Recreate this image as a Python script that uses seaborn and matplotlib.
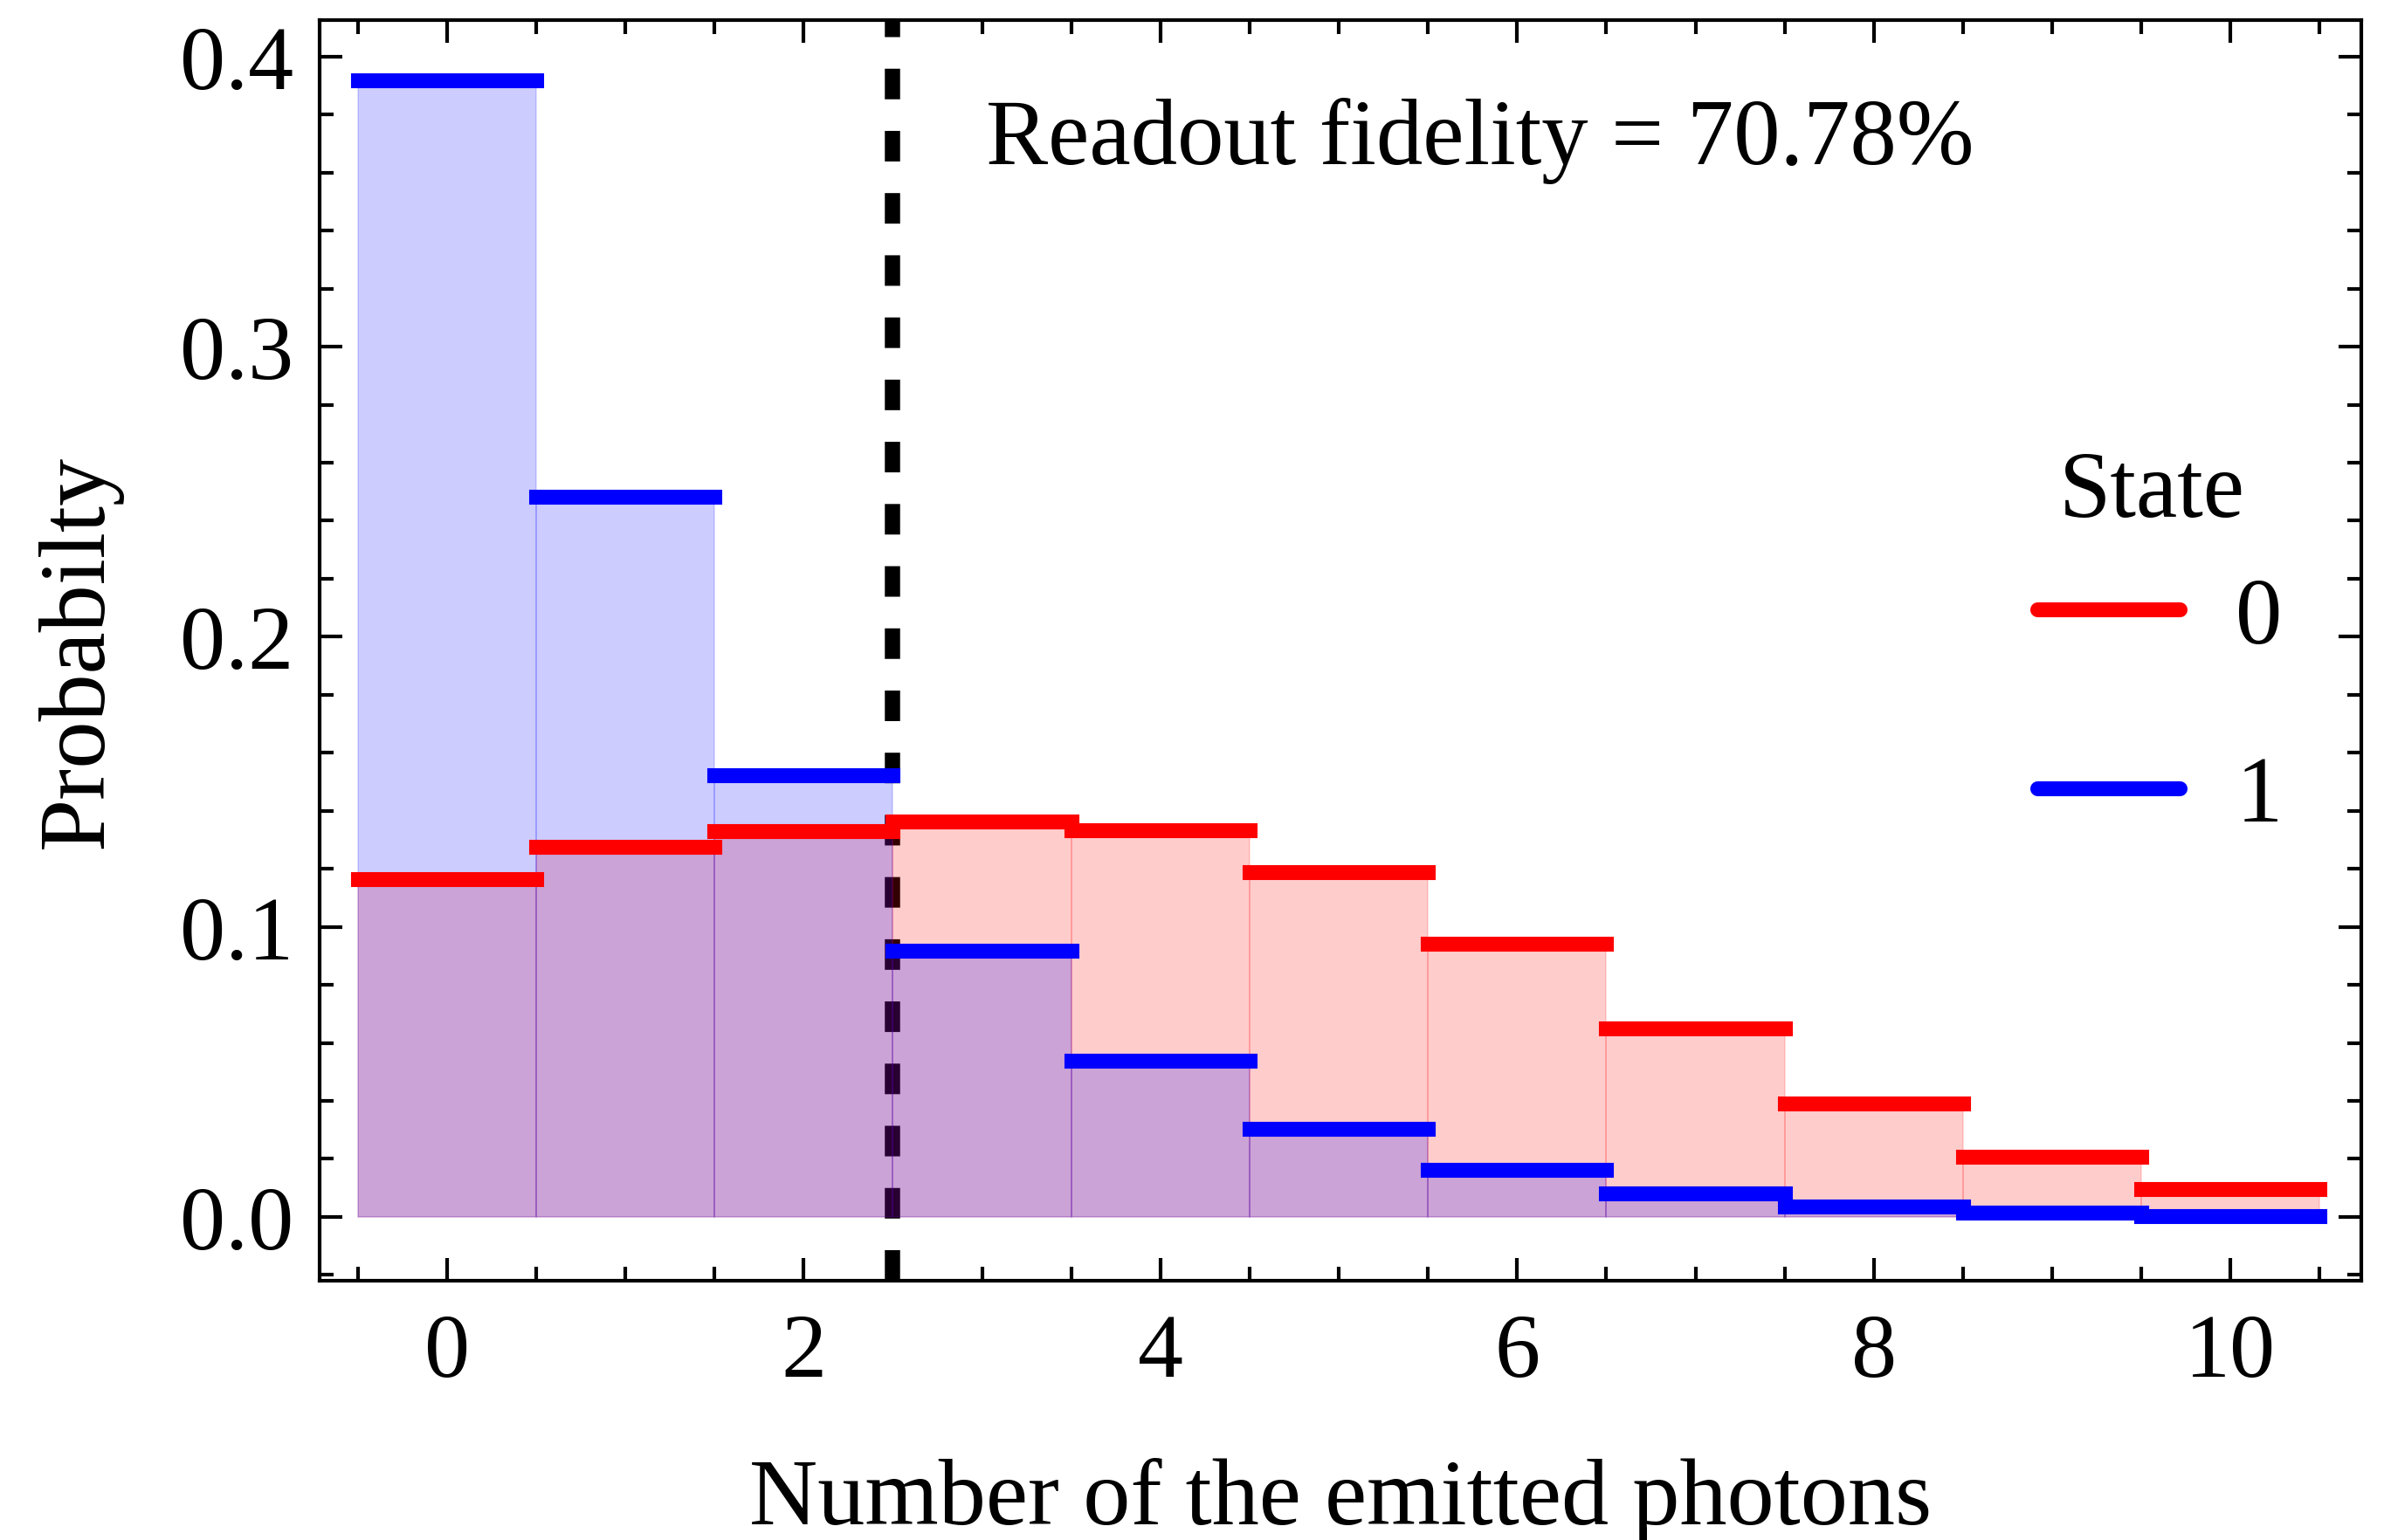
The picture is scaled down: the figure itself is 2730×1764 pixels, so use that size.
import numpy as np
import pandas as pd
import matplotlib
matplotlib.use("Agg")
import matplotlib.pyplot as plt
import seaborn as sns
from matplotlib.lines import Line2D
from matplotlib.ticker import MultipleLocator
from matplotlib.colors import to_rgba

# ---- data ----
photons = [0, 1, 2, 3, 4, 5, 6, 7, 8, 9, 10]
prob_state0 = [0.1163, 0.1275, 0.1329, 0.1362, 0.1332, 0.1188, 0.0942, 0.0651, 0.0392, 0.0206, 0.0095]
prob_state1 = [0.3919, 0.2482, 0.1524, 0.0917, 0.0539, 0.0304, 0.0161, 0.0081, 0.0036, 0.0014, 0.0004]
states = ["0", "1"]
state_colors = {"0": "red", "1": "blue"}
threshold = 2.5
fidelity_text = "Readout fidelity = 70.78%"
x_ticks = [0, 2, 4, 6, 8, 10]
y_ticks = [0.0, 0.1, 0.2, 0.3, 0.4]
x_label = "Number of the emitted photons"
y_label = "Probabilty"
legend_title = "State"

df = pd.DataFrame({
    "photons": photons * 2,
    "prob": prob_state0 + prob_state1,
    "state": ["0"] * len(photons) + ["1"] * len(photons),
})

sns.set_theme(style="ticks")
plt.rcParams["font.family"] = ["Liberation Serif", "DejaVu Serif"]
plt.rcParams["text.color"] = "black"
plt.rcParams["axes.labelcolor"] = "black"
plt.rcParams["xtick.color"] = "black"
plt.rcParams["ytick.color"] = "black"
plt.rcParams["axes.edgecolor"] = "black"

fig = plt.figure(figsize=(9.1, 5.8833), dpi=300)
ax = fig.add_axes([0.1339, 0.1683, 0.8566, 0.8181])

# filled bars: state 0 first, state 1 on top
for s in states:
    sub = df[df["state"] == s]
    c = state_colors[s]
    sns.histplot(data=sub, x="photons", weights="prob", discrete=True,
                 color=c, alpha=0.2, edgecolor=to_rgba(c, 0.15), linewidth=0.4,
                 ax=ax, zorder=1)

# horizontal step tops
for s in states:
    sub = df[df["state"] == s]
    c = state_colors[s]
    ax.hlines(sub["prob"], sub["photons"] - 0.5, sub["photons"] + 0.5,
              color=c, lw=4.1, capstyle="projecting", zorder=3)

# threshold line (below the fills)
ax.axvline(threshold, color="black", lw=4.2, dashes=(2.0, 2.07), zorder=0.5)

ax.set_xlim(-0.716, 10.733)
ax.set_ylim(-0.022, 0.4126)
ax.set_xticks(x_ticks)
ax.set_xticklabels([str(v) for v in x_ticks])
ax.set_yticks(y_ticks)
ax.set_yticklabels([f"{v:.1f}" for v in y_ticks])
ax.xaxis.set_minor_locator(MultipleLocator(0.5))
ax.yaxis.set_minor_locator(MultipleLocator(0.02))
ax.tick_params(which="both", direction="in", top=True, right=True, width=1.0, color="black")
ax.tick_params(which="major", length=6.3, labelsize=25)
ax.tick_params(which="minor", length=3.9)
ax.tick_params(axis="x", which="major", pad=9)
ax.tick_params(axis="y", which="major", pad=7)
for sp in ax.spines.values():
    sp.set_visible(True)
    sp.set_color("black")
    sp.set_linewidth(1.0)

ax.set_xlabel(x_label, fontsize=26, labelpad=17)
ax.set_ylabel(y_label, fontsize=26, labelpad=16)

ax.text(3.02, 0.3633, fidelity_text, fontsize=25.6, ha="left", va="baseline")
ax.text(9.56, 0.2417, legend_title, fontsize=25.6, ha="center", va="baseline")

handles = [Line2D([], [], color=state_colors[s], lw=4.1) for s in states]
ax.legend(handles, states, loc="center left", bbox_to_anchor=(0.8414, 0.4536),
          frameon=False, fontsize=25.6, handlelength=1.53, handletextpad=0.6,
          labelspacing=1.0, borderpad=0, borderaxespad=0)

fig.savefig("out.png", dpi=300)
